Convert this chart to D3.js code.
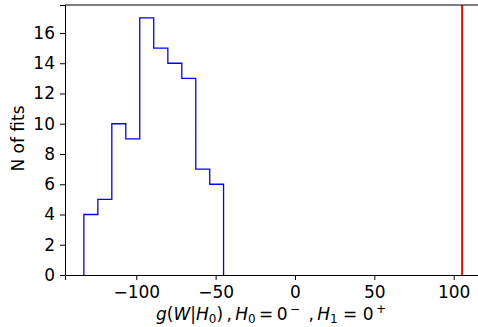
<!DOCTYPE html>
<html>
<head>
<meta charset="utf-8">
<script src="https://cdn.jsdelivr.net/npm/d3@7"></script>
<style>
  body { margin: 0; background: #fff; }
  text { font-family: "DejaVu Sans", sans-serif; fill: #000; }
</style>
</head>
<body>
<svg id="chart" width="478" height="327"></svg>
<script>
// histogram bins (edges) and counts
var binEdges = [-133.0, -124.2, -115.4, -106.6, -97.8, -89.0, -80.1, -71.3, -62.5, -53.7, -45.0];
var counts = [4, 5, 10, 9, 17, 15, 14, 13, 7, 6];
var observed = 105.3;
var xTicks = [-100, -50, 0, 50, 100];
var yTicks = [0, 2, 4, 6, 8, 10, 12, 14, 16];

var svg = d3.select("#chart");
var margin = {top: 5, right: -3, bottom: 52, left: 65};
var width = 478 - margin.left - margin.right,
    height = 327 - margin.top - margin.bottom;

var g = svg.append("g").attr("transform", "translate(" + margin.left + "," + margin.top + ")");

var x = d3.scaleLinear().domain([-144.9, 117.2]).range([0, width]);
var y = d3.scaleLinear().domain([0, 17.85]).range([height, 0]);

// step outline of the histogram
var pts = [[binEdges[0], 0]];
counts.forEach(function(c, i) {
  pts.push([binEdges[i], c]);
  pts.push([binEdges[i + 1], c]);
});
pts.push([binEdges[binEdges.length - 1], 0]);

var line = d3.line()
  .x(function(d) { return x(d[0]); })
  .y(function(d) { return y(d[1]); });

g.append("path")
  .datum(pts)
  .attr("d", line)
  .attr("fill", "none")
  .attr("stroke", "#0000ff")
  .attr("stroke-width", 1.3);

// observed value
g.append("line")
  .attr("x1", x(observed)).attr("x2", x(observed))
  .attr("y1", 0).attr("y2", height)
  .attr("stroke", "#ff0000")
  .attr("stroke-width", 2);

// axes
var xaxis = g.append("g")
  .attr("transform", "translate(0," + height + ")")
  .call(d3.axisBottom(x).tickValues(xTicks).tickSize(5).tickPadding(6)
    .tickFormat(function(d) { return d < 0 ? "\u2212" + Math.abs(d) : d; }));
var yaxis = g.append("g")
  .call(d3.axisLeft(y).tickValues(yTicks).tickSize(5).tickPadding(5));

[xaxis, yaxis].forEach(function(a) {
  a.selectAll("text").attr("font-size", 17).attr("font-family", "DejaVu Sans");
  a.select(".domain").attr("stroke", "#000").attr("stroke-width", 1);
});

// top spine
g.append("line")
  .attr("x1", 0).attr("x2", width)
  .attr("y1", 0).attr("y2", 0)
  .attr("stroke", "#000").attr("stroke-width", 1);

// labels
g.append("text")
  .attr("transform", "translate(" + -41 + "," + (height / 2 - 1.5) + ")rotate(-90)")
  .attr("text-anchor", "middle")
  .attr("font-size", 17)
  .text("N of fits");

var xl = svg.append("text")
  .attr("x", 271)
  .attr("y", 320)
  .attr("text-anchor", "middle")
  .attr("font-size", 17);

var parts = [
  ["g", "i"], ["(", ""], ["W", "i"], ["|", ""], ["H", "i"], ["0", "sub"], [")", ""],
  ["\u2009,\u2009", ""], ["H", "i"], ["0", "sub"], ["\u2009=\u20090", ""], ["\u2009\u2212", "sup"],
  ["\u2002,\u2009", ""], ["H", "i"], ["1", "sub"], [" = 0", ""], ["\u2009+", "sup"]
];
var shift = 0;
parts.forEach(function(p) {
  var t = xl.append("tspan").text(p[0]);
  var want = p[1] === "sub" ? 3 : p[1] === "sup" ? -7 : 0;
  if (want !== shift) { t.attr("dy", want - shift); shift = want; }
  if (p[1] === "i") t.attr("font-style", "italic");
  if (p[1] === "sub" || p[1] === "sup") t.attr("font-size", 12);
});
</script>
</body>
</html>
